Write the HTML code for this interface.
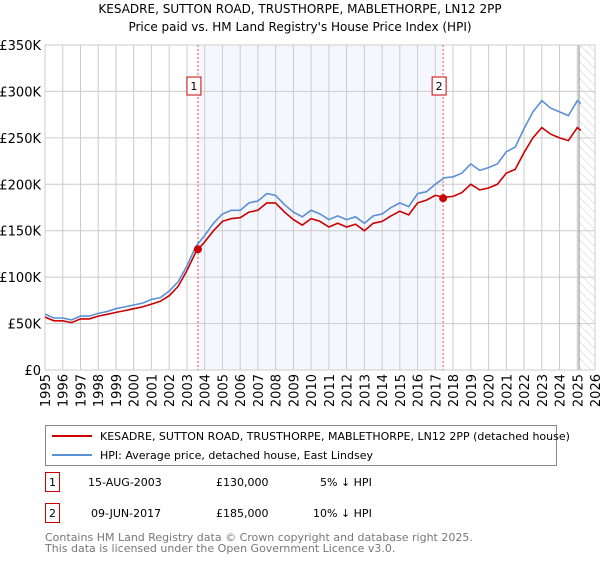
<!DOCTYPE html>
<html><head><meta charset="utf-8"><style>
body{margin:0;background:#fff;font-family:"Liberation Sans","DejaVu Sans",sans-serif;}
svg text{font-family:"DejaVu Sans","Liberation Sans",sans-serif;}
</style></head><body>
<svg width="600" height="560" xmlns="http://www.w3.org/2000/svg">
<defs><pattern id="hatch" width="6" height="6" patternUnits="userSpaceOnUse" patternTransform="rotate(-45)"><line x1="0" y1="0" x2="0" y2="6" stroke="#ccc" stroke-width="1"/></pattern></defs>
<text x="300" y="13" text-anchor="middle" font-size="12">KESADRE, SUTTON ROAD, TRUSTHORPE, MABLETHORPE, LN12 2PP</text>
<text x="300" y="31" text-anchor="middle" font-size="12">Price paid vs. HM Land Registry's House Price Index (HPI)</text>
<g id="plot"></g>
<g>
<rect x="45.5" y="425.5" width="511" height="40" fill="#fff" stroke="#888"/>
<line x1="52" y1="436" x2="92" y2="436" stroke="#cc0000" stroke-width="2"/>
<text x="100" y="440" font-size="11">KESADRE, SUTTON ROAD, TRUSTHORPE, MABLETHORPE, LN12 2PP (detached house)</text>
<line x1="52" y1="455" x2="92" y2="455" stroke="#5b8fd6" stroke-width="2"/>
<text x="100" y="459" font-size="11">HPI: Average price, detached house, East Lindsey</text>
</g>
<g font-size="11">
<rect x="45.5" y="472.5" width="14" height="19" fill="#fff" stroke="#cc0000"/><text x="52.5" y="486" text-anchor="middle">1</text>
<text x="88" y="486">15-AUG-2003</text><text x="216" y="486">£130,000</text><text x="320" y="486">5% ↓ HPI</text>
<rect x="45.5" y="503.5" width="14" height="19" fill="#fff" stroke="#cc0000"/><text x="52.5" y="517" text-anchor="middle">2</text>
<text x="91" y="517">09-JUN-2017</text><text x="216" y="517">£185,000</text><text x="313" y="517">10% ↓ HPI</text>
</g>
<text x="45" y="541" font-size="11" fill="#777">Contains HM Land Registry data © Crown copyright and database right 2025.</text>
<text x="45" y="552" font-size="11" fill="#777">This data is licensed under the Open Government Licence v3.0.</text>
</svg>
<script>
const years=[1995,1995.5,1996,1996.5,1997,1997.5,1998,1998.5,1999,1999.5,2000,2000.5,2001,2001.5,2002,2002.5,2003,2003.5,2004,2004.5,2005,2005.5,2006,2006.5,2007,2007.5,2008,2008.5,2009,2009.5,2010,2010.5,2011,2011.5,2012,2012.5,2013,2013.5,2014,2014.5,2015,2015.5,2016,2016.5,2017,2017.5,2018,2018.5,2019,2019.5,2020,2020.5,2021,2021.5,2022,2022.5,2023,2023.5,2024,2024.5,2025,2025.2];
const hpi=[60,56,56,54,58,58,61,63,66,68,70,72,76,78,85,95,112,133,145,158,168,172,172,180,182,190,188,178,170,165,172,168,162,166,162,165,158,166,168,175,180,176,190,192,200,207,208,212,222,215,218,222,235,240,260,278,290,282,278,274,290,287];
const price=[57,53,53,51,55,55,58,60,62,64,66,68,71,74,80,90,107,127,138,150,160,163,164,170,172,180,180,170,162,156,163,160,154,158,154,157,150,158,160,166,171,167,180,183,188,186,187,191,200,194,196,200,212,216,234,250,261,254,250,247,261,258];
const saleYears=[2003.62,2017.44];
const salePrices=[130,185];
const yTicks=[0,50,100,150,200,250,300,350];
const yLabels=["£0","£50K","£100K","£150K","£200K","£250K","£300K","£350K"];
const xTicks=[1995,1996,1997,1998,1999,2000,2001,2002,2003,2004,2005,2006,2007,2008,2009,2010,2011,2012,2013,2014,2015,2016,2017,2018,2019,2020,2021,2022,2023,2024,2025,2026];
const L=45,R=595,T=45,B=370,NS="http://www.w3.org/2000/svg";
const xs=v=>L+(v-1995)/31*(R-L), ys=v=>B-v/350*(B-T);
const g=document.getElementById('plot');
function mk(t,a,p){const e=document.createElementNS(NS,t);for(const k in a)e.setAttribute(k,a[k]);(p||g).appendChild(e);return e;}
let e;
e=mk('rect',{x:xs(saleYears[0]),y:T,width:xs(saleYears[1])-xs(saleYears[0]),height:B-T,fill:'#f4f7fd'});


e=mk('rect',{x:xs(2025.1),y:T,width:R-xs(2025.1),height:B-T,fill:'url(#hatch)'});


yTicks.forEach((v,i)=>{
 e=mk('line',{x1:L,x2:R,y1:ys(v),y2:ys(v),stroke:'#ccc'});
 
 
 e=mk('text',{x:L-4,y:ys(v)+5,'text-anchor':'end','font-size':'13'});e.textContent=yLabels[i];
 
 
});
xTicks.forEach(v=>{
 e=mk('line',{x1:xs(v),x2:xs(v),y1:T,y2:B,stroke:'#ccc'});
 
 
 e=mk('text',{x:0,y:0,'text-anchor':'end','font-size':'13',transform:`translate(${xs(v)+5},${B+4}) rotate(-90)`});e.textContent=v;
 
 
});
e=mk('line',{x1:xs(2025.1),x2:xs(2025.1),y1:T,y2:B,stroke:'#888'});


e=mk('rect',{x:L,y:T,width:R-L,height:B-T,fill:'none',stroke:'#ccc'});


saleYears.forEach((v,i)=>{
 e=mk('line',{x1:xs(v),x2:xs(v),y1:T,y2:B,stroke:'#e55','stroke-dasharray':'2,2'});
 
 
 e=mk('rect',{x:xs(v)-11,y:77,width:14,height:18,fill:'#fff',stroke:'#cc0000'});
 
 
 e=mk('text',{x:xs(v)-4,y:90,'text-anchor':'middle','font-size':'11'});e.textContent=String(i+1);
 
 
});
function line(arr,col,name){const d=arr.map((v,i)=>(i?'L':'M')+xs(years[i]).toFixed(1)+','+ys(v).toFixed(1)).join('');
 e=mk('path',{d:d,fill:'none',stroke:col,'stroke-width':1.6});
 
 }
line(hpi,'#5b8fd6','hpi-line');
line(price,'#cc0000','price-line');
saleYears.forEach((v,i)=>{
 e=mk('circle',{cx:xs(v),cy:ys(salePrices[i]),r:4,fill:'#cc0000'});
 
 
});
</script>
</body></html>
